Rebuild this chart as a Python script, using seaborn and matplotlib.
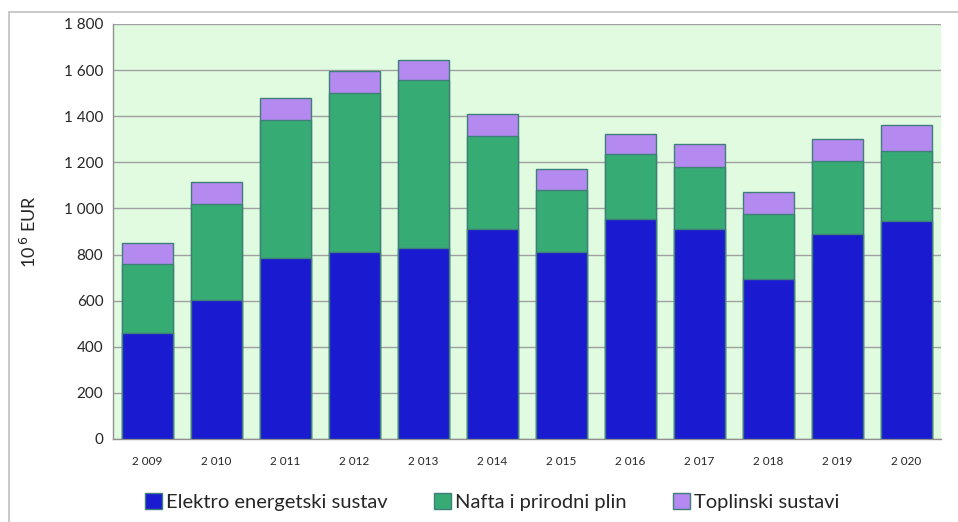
import matplotlib
matplotlib.use('Agg')
import matplotlib.pyplot as plt
from matplotlib.patches import Rectangle, Patch
from matplotlib.ticker import FixedLocator
import numpy as np
import pandas as pd
import seaborn as sns

years = ['2 009', '2 010', '2 011', '2 012', '2 013', '2 014',
         '2 015', '2 016', '2 017', '2 018', '2 019', '2 020']
elektro = [460, 605, 785, 810, 830, 910, 810, 955, 910, 695, 890, 945]
nafta = [300, 415, 600, 690, 725, 405, 270, 280, 270, 280, 315, 305]
toplinski = [90, 95, 95, 95, 90, 95, 90, 90, 100, 95, 95, 110]
series_names = ['Elektro energetski sustav', 'Nafta i prirodni plin', 'Toplinski sustavi']
y_ticks = [0, 200, 400, 600, 800, 1000, 1200, 1400, 1600, 1800]
y_labels = ['0', '200', '400', '600', '800', '1 000', '1 200', '1 400', '1 600', '1 800']

colors = ['#1a1ad0', '#37ab74', '#b48af0']

sns.set_style('white')
plt.rcParams['font.family'] = ['Lato', 'DejaVu Sans']

df = pd.DataFrame({'year': years, 'elektro': elektro, 'nafta': nafta, 'toplinski': toplinski})
df['lvl1'] = df['elektro']
df['lvl2'] = df['elektro'] + df['nafta']
df['lvl3'] = df['lvl2'] + df['toplinski']

fig = plt.figure(figsize=(9.58, 5.22), dpi=100)
ax = fig.add_axes([113 / 958, 83 / 522, 828 / 958, 415 / 522])
ax.set_facecolor('#e0fbe0')

# outer chart border
fig.patches.append(Rectangle((9 / 958, -0.01), 1.0, 1 - 7 / 522,
                             transform=fig.transFigure, fill=False,
                             edgecolor='#c0c0c0', linewidth=1.2))

for col, c in zip(['lvl3', 'lvl2', 'lvl1'], colors[::-1]):
    sns.barplot(data=df, x='year', y=col, color=c, width=0.75, ax=ax,
                saturation=1, edgecolor='#3f7f7a', linewidth=1.0, zorder=3)

ax.set_ylim(0, 1800)
ax.set_xlim(-0.5, len(years) - 0.5)
ax.set_yticks(y_ticks)
ax.set_yticklabels(y_labels, fontsize=11)
ax.tick_params(axis='y', length=4, color='#909090', pad=3)
ax.tick_params(axis='x', which='major', length=0, labelsize=8.5, pad=12)
ax.xaxis.set_minor_locator(FixedLocator(np.arange(-0.5, len(years), 1)))
ax.tick_params(axis='x', which='minor', length=5, color='#909090')
ax.yaxis.grid(True, color='#a0a0a0', linewidth=1.0, zorder=0)
ax.set_axisbelow(True)
ax.set_xlabel('')
ax.set_ylabel(r'10$^{\,6}$ EUR', fontsize=13, labelpad=18)
for s in ['top', 'right']:
    ax.spines[s].set_visible(False)
for s in ['left', 'bottom']:
    ax.spines[s].set_color('#909090')
    ax.spines[s].set_linewidth(1.0)

handles = [Patch(facecolor=c, edgecolor='#3f7f7a', label=n) for c, n in zip(colors, series_names)]
fig.legend(handles=handles, loc='center', bbox_to_anchor=(0.514, 20 / 522), ncol=3,
           frameon=False, fontsize=14.5, handlelength=0.85, handleheight=0.85,
           handletextpad=0.2, columnspacing=2.3)

fig.savefig('out.png', dpi=100)
